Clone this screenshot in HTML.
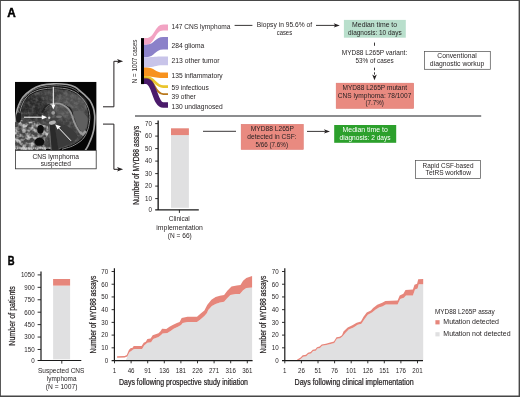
<!DOCTYPE html>
<html><head><meta charset="utf-8"><title>Figure</title>
<style>html,body{margin:0;padding:0;background:#fff}svg{display:block}text{font-family:"Liberation Sans", sans-serif;fill:#231f20}</style>
</head><body>
<svg width="520" height="397" viewBox="0 0 520 397">
<rect width="520" height="397" fill="#fff"/>
<path d="M0 0H520V397H0Z M0.9 1V395.6H518.6V1Z" fill="#474747" fill-rule="evenodd"/>
<text x="7.2" y="16.6" font-size="12" textLength="8.5" lengthAdjust="spacingAndGlyphs" font-weight="bold" style="fill:#000" stroke="#000" stroke-width="0.45">A</text>
<text x="7.8" y="264.6" font-size="12" textLength="6.8" lengthAdjust="spacingAndGlyphs" font-weight="bold" style="fill:#000" stroke="#000" stroke-width="0.45">B</text>
<g transform="translate(15.0 81.8)">
<defs>
<clipPath id="mclip"><rect width="81.6" height="68.7"/></clipPath>
<filter id="b3" x="-10%" y="-10%" width="120%" height="120%"><feGaussianBlur stdDeviation="0.35"/></filter>
<filter id="b8" x="-20%" y="-20%" width="140%" height="140%"><feGaussianBlur stdDeviation="1.2"/></filter>
<filter id="nz" x="0" y="0" width="100%" height="100%"><feTurbulence type="fractalNoise" baseFrequency="0.26" numOctaves="2" seed="11" result="t"/><feColorMatrix in="t" type="matrix" values="0 0 0 0 0  0 0 0 0 0  0 0 0 0 0  2.6 0 0 0 -0.95" result="a"/><feFlood flood-color="#c4c4c4"/><feComposite in2="a" operator="in"/><feComposite in2="SourceGraphic" operator="in"/></filter>
<filter id="nz2" x="0" y="0" width="100%" height="100%"><feTurbulence type="fractalNoise" baseFrequency="0.3" numOctaves="2" seed="3" result="t"/><feColorMatrix in="t" type="matrix" values="0 0 0 0 0  0 0 0 0 0  0 0 0 0 0  2.0 0 0 0 -0.75" result="a"/><feFlood flood-color="#9a9a9a"/><feComposite in2="a" operator="in"/><feComposite in2="SourceGraphic" operator="in"/></filter>
</defs>
<g clip-path="url(#mclip)">
<rect width="81.6" height="68.7" fill="#050505"/>
<g filter="url(#b3)">
<path d="M-2.0 62.0C-1.8 60.0 -0.9 53.7 -0.5 50.0C-0.1 46.3 0.2 43.2 0.6 40.0C0.9 36.8 1.2 33.6 1.6 31.0C2.0 28.4 2.2 27.1 3.3 24.5C4.3 21.9 5.6 18.2 7.9 15.4C10.2 12.6 13.9 9.7 16.9 7.7C19.9 5.7 22.4 4.5 26.0 3.6C29.6 2.6 34.4 2.1 38.8 2.0C43.2 1.9 48.7 2.2 52.2 2.7C55.7 3.2 57.7 4.0 60.0 5.2C62.3 6.4 64.2 8.4 66.0 10.0C67.8 11.6 69.5 13.0 71.0 14.5C72.5 16.0 73.9 17.2 75.1 19.1C76.3 21.0 77.5 23.6 78.3 26.0C79.1 28.4 79.5 31.3 79.7 33.6C79.9 35.9 79.7 37.8 79.6 40.0C79.5 42.2 79.3 44.4 79.0 46.6C78.7 48.8 78.1 50.9 77.5 53.0C76.9 55.1 76.0 57.2 75.2 59.0C74.5 60.8 73.8 62.4 73.0 64.0C72.2 65.6 70.8 67.8 70.4 68.5" fill="none" stroke="#a2a2a2" stroke-width="1.7"/>
<path d="M2.2 40.0C2.4 38.4 2.8 33.3 3.3 30.5C3.8 27.7 4.4 25.6 5.4 23.2C6.4 20.8 7.7 18.1 9.5 15.8C11.3 13.5 13.8 11.3 16.5 9.6C19.2 7.9 22.3 6.5 26.0 5.6C29.7 4.7 34.8 4.2 38.8 4.0C42.8 3.8 46.8 4.1 50.0 4.6C53.2 5.1 55.7 5.8 58.0 6.8C60.3 7.8 63.0 9.9 64.0 10.5" fill="none" stroke="#8a8a8a" stroke-width="0.8"/>
<path d="M4.3 51.4C4.4 49.5 4.7 43.4 5.1 39.9C5.4 36.3 5.6 33.1 6.2 30.2C6.8 27.3 7.7 24.7 8.6 22.5C9.6 20.3 10.6 18.6 12.0 16.9C13.4 15.2 14.4 13.8 16.8 12.5C19.3 11.1 22.8 9.5 26.5 8.6C30.2 7.7 35.0 7.3 38.8 7.1C42.7 7.0 46.9 7.4 49.6 7.8C52.4 8.2 53.6 8.8 55.4 9.5C57.3 10.2 59.1 10.9 60.7 12.1C62.4 13.2 64.1 14.9 65.6 16.5C67.0 18.1 68.4 19.7 69.5 21.5C70.7 23.3 71.7 25.3 72.3 27.3C73.0 29.3 73.4 31.8 73.6 33.7C73.8 35.6 73.6 37.1 73.4 38.9C73.2 40.7 72.9 42.5 72.5 44.3C72.1 46.1 71.6 47.8 70.9 49.5C70.2 51.2 69.3 53.1 68.4 54.5C67.4 56.0 66.3 57.1 65.1 58.2C63.9 59.3 62.4 60.2 61.0 61.0C59.7 61.8 58.3 62.6 56.9 63.2C55.5 63.8 54.4 64.1 52.7 64.7C51.0 65.2 47.8 66.1 46.8 66.4L40 70Z" fill="#3f3f3f"/>
<ellipse cx="55" cy="24" rx="17" ry="13" fill="#505050" filter="url(#b8)"/>
<ellipse cx="19" cy="26" rx="13" ry="12" fill="#2a2a2a" filter="url(#b8)"/>
<path d="M4.3 51.4C4.4 49.5 4.7 43.4 5.1 39.9C5.4 36.3 5.6 33.1 6.2 30.2C6.8 27.3 7.7 24.7 8.6 22.5C9.6 20.3 10.6 18.6 12.0 16.9C13.4 15.2 14.4 13.8 16.8 12.5C19.3 11.1 22.8 9.5 26.5 8.6C30.2 7.7 35.0 7.3 38.8 7.1C42.7 7.0 46.9 7.4 49.6 7.8C52.4 8.2 53.6 8.8 55.4 9.5C57.3 10.2 59.1 10.9 60.7 12.1C62.4 13.2 64.1 14.9 65.6 16.5C67.0 18.1 68.4 19.7 69.5 21.5C70.7 23.3 71.7 25.3 72.3 27.3C73.0 29.3 73.4 31.8 73.6 33.7C73.8 35.6 73.6 37.1 73.4 38.9C73.2 40.7 72.9 42.5 72.5 44.3C72.1 46.1 71.6 47.8 70.9 49.5C70.2 51.2 69.3 53.1 68.4 54.5C67.4 56.0 66.3 57.1 65.1 58.2C63.9 59.3 62.4 60.2 61.0 61.0C59.7 61.8 58.3 62.6 56.9 63.2C55.5 63.8 54.4 64.1 52.7 64.7C51.0 65.2 47.8 66.1 46.8 66.4L40 70Z" fill="#fff" filter="url(#nz2)" opacity="0.42"/>
<path d="M3.0 52.0C3.1 50.0 3.5 43.7 3.8 40.0C4.1 36.3 4.4 33.0 5.0 30.0C5.6 27.0 6.5 24.3 7.5 22.0C8.5 19.7 9.6 17.9 11.0 16.2C12.4 14.5 13.5 13.0 16.0 11.6C18.5 10.2 22.2 8.5 26.0 7.6C29.8 6.7 34.8 6.2 38.8 6.1C42.8 6.0 47.1 6.4 50.0 6.8C52.9 7.2 54.1 7.8 56.0 8.5C57.9 9.2 59.8 10.0 61.5 11.2C63.2 12.4 65.0 14.2 66.5 15.8C68.0 17.4 69.4 19.1 70.6 21.0C71.8 22.9 72.8 24.9 73.5 27.0C74.2 29.1 74.6 31.6 74.8 33.6C75.0 35.6 74.8 37.2 74.6 39.0C74.4 40.8 74.1 42.8 73.7 44.6C73.3 46.4 72.7 48.2 72.0 50.0C71.3 51.8 70.4 53.7 69.4 55.2C68.4 56.7 67.3 57.9 66.0 59.0C64.7 60.1 63.2 61.0 61.8 61.9C60.4 62.8 58.9 63.6 57.5 64.2C56.1 64.8 55.0 65.2 53.2 65.7C51.5 66.2 48.0 67.2 47.0 67.5" fill="none" stroke="#8e8e8e" stroke-width="1"/>
<path d="M27 31C30 22 42 19 50 23C56 26 58 31 57 35" fill="none" stroke="#222" stroke-width="2"/>
<path d="M30 27C36 19.5 47 19.5 54 24.5" fill="none" stroke="#6a6a6a" stroke-width="0.9"/>
<path d="M35 22.5C42 20.5 49 22.5 53.3 27C56 29.8 56.6 32.5 57.5 35.5C59 41 62 47 66.5 52.5" fill="none" stroke="#969696" stroke-width="1.8"/>
<path d="M63.5 50.5L68 54.5L72 50L69 48Z" fill="#999"/>
<path d="M58.5 30C62 28 70 30 72.5 36C73.5 42 71 48 67.5 51C63 47 60 40 58.5 30Z" fill="#5e5e5e"/>
<path d="M37 44L43 42C50 42 58 46 63 55C60 60 52 64 45 66L41 68Z" fill="#3a3a3a"/>
<path d="M34.5 43.5L39.5 43L43.5 68.5L36.5 68.5Z" fill="#2a2a2a"/>
<path d="M34.2 43.5L36.2 68.5" stroke="#777" stroke-width="0.7"/>
<path d="M-1 41L6 38L14 40L22 39L27 43L33 44L34 52L30 57L31 68.5L-1 68.5Z" fill="#474747"/>
<path d="M-1 41L6 38L14 40L22 39L27 43L33 44L34 52L30 57L31 68.5L-1 68.5Z" fill="#fff" filter="url(#nz)"/>
<ellipse cx="25.5" cy="47.5" rx="3.2" ry="4.3" fill="#0a0a0a"/>
<ellipse cx="24.5" cy="60" rx="5" ry="4" fill="#111"/>
<ellipse cx="3.5" cy="36" rx="2.5" ry="5" fill="#1a1a1a"/>
<path d="M0 66.3H36" stroke="#cfcfcf" stroke-width="1.3" stroke-dasharray="1.2 0.6"/>
<circle cx="38.2" cy="31" r="1.9" fill="#9a9a9a"/>
<circle cx="34.2" cy="36" r="1.2" fill="#c8c8c8"/>
<ellipse cx="37.4" cy="40.8" rx="3.6" ry="1.9" fill="#b5b5b5" transform="rotate(-12 37.4 40.8)"/>
<ellipse cx="44" cy="35" rx="3" ry="1.2" fill="#777"/>
</g>
<g stroke="#fff" stroke-width="1" fill="#fff">
<path d="M38.3 5V24"/><path d="M38.3 27.8L36.1 22.6H40.5Z" stroke="none"/>
<path d="M9 35.4H28"/><path d="M32 35.4L26.8 33.2V37.6Z" stroke="none"/>
<path d="M56 59L43 45.4"/><path d="M40.3 42.6L45.8 44.5L42.5 47.8Z" stroke="none"/>
</g>
</g>
</g>
<rect x="15.4" y="150.5" width="80.8" height="18.3" fill="#fff" stroke="#333" stroke-width="0.8"/>
<text x="55.7" y="158.7" font-size="6.8" text-anchor="middle" textLength="46.4" lengthAdjust="spacingAndGlyphs">CNS lymphoma</text>
<text x="55.85" y="166.1" font-size="6.8" text-anchor="middle" textLength="30.1" lengthAdjust="spacingAndGlyphs">suspected</text>
<g fill="none" stroke="#231f20" stroke-width="1">
<path d="M103 106.8H113.9V61.3H119"/>
<path d="M103 124.1H113.9V169.3H119"/>
</g>
<path d="M123.1 61.3L117.0 59.099999999999994L118.5 61.3L117.0 63.5Z" fill="#231f20"/>
<path d="M123.1 169.3L117.0 167.10000000000002L118.5 169.3L117.0 171.5Z" fill="#231f20"/>
<path d="M144 38.1L146.3 38.1C154.75 38.1 154.75 24.5 163.2 24.5L168 24.5L168 30.4L163.2 30.4C154.75 30.4 154.75 44.7 146.3 44.7L144 44.7Z" fill="#f2a3c3"/>
<path d="M144 44.7L146.3 44.7C154.75 44.7 154.75 37 163.2 37L168 37L168 49.6L163.2 49.6C154.75 49.6 154.75 57.3 146.3 57.3L144 57.3Z" fill="#8b81c9"/>
<path d="M144 57.3L146.3 57.3C154.75 57.3 154.75 56.6 163.2 56.6L168 56.6L168 65.3L163.2 65.3C154.75 65.3 154.75 67.5 146.3 67.5L144 67.5Z" fill="#c8c4e9"/>
<path d="M144 67.5L146.3 67.5C154.75 67.5 154.75 72.6 163.2 72.6L168 72.6L168 77.9L163.2 77.9C154.75 77.9 154.75 76.4 146.3 76.4L144 76.4Z" fill="#f7921e"/>
<path d="M144 77.30L146.3 77.30C154.75 77.30 154.75 86.60 163.2 86.60L168 86.60" fill="none" stroke="#eac52d" stroke-width="2.7"/>
<path d="M144 78.60L146.3 78.60C154.75 78.60 154.75 94.10 163.2 94.10L168 94.10" fill="none" stroke="#b9781c" stroke-width="1.9"/>
<path d="M144 81.35L146.3 81.35C154.75 81.35 154.75 105.10 163.2 105.10L168 105.10" fill="none" stroke="#4b1b6b" stroke-width="5.5"/>
<rect x="141" y="38.1" width="3" height="46" fill="#000"/>
<text transform="translate(136.8 61.4) rotate(-90)" font-size="6.8" text-anchor="middle" textLength="43.7" lengthAdjust="spacingAndGlyphs">N = 1007 cases</text>
<text x="171.5" y="29" font-size="7" textLength="59" lengthAdjust="spacingAndGlyphs">147 CNS lymphoma</text>
<text x="171.5" y="47.9" font-size="7" textLength="32.7" lengthAdjust="spacingAndGlyphs">284 glioma</text>
<text x="171.5" y="62.8" font-size="7" textLength="48.1" lengthAdjust="spacingAndGlyphs">213 other tumor</text>
<text x="171.5" y="78.3" font-size="7" textLength="51.2" lengthAdjust="spacingAndGlyphs">135 inflammatory</text>
<text x="171.5" y="89.5" font-size="7" textLength="37.3" lengthAdjust="spacingAndGlyphs">59 infectious</text>
<text x="171.5" y="99" font-size="7" textLength="24.3" lengthAdjust="spacingAndGlyphs">39 other</text>
<text x="171.5" y="108.8" font-size="7" textLength="51.2" lengthAdjust="spacingAndGlyphs">130 undiagnosed</text>
<g stroke="#231f20" stroke-width="0.9" fill="none">
<path d="M234.6 25.4H252.4"/>
<path d="M316 25.4H335.5"/>
<path d="M374.5 42.6V45.8"/>
<path d="M374.5 67.7V70.3M374.5 72.3V74.6"/>
<path d="M203 131.3H236"/>
<path d="M307 131.4H325.5"/>
</g>
<path d="M339.8 25.4L333.7 23.2L335.2 25.4L333.7 27.599999999999998Z" fill="#231f20"/>
<path d="M374.5 80.2L372.2 74.60000000000001L374.5 75.9L376.8 74.60000000000001Z" fill="#231f20"/>
<path d="M330 131.4L323.9 129.20000000000002L325.4 131.4L323.9 133.6Z" fill="#231f20"/>
<text x="284.4" y="27.2" font-size="6.8" text-anchor="middle" textLength="55.3" lengthAdjust="spacingAndGlyphs">Biopsy in 95.6% of</text>
<text x="284.4" y="34.9" font-size="6.8" text-anchor="middle" textLength="15.4" lengthAdjust="spacingAndGlyphs">cases</text>
<rect x="343.9" y="19.9" width="61.9" height="17.8" fill="#b9dfcc"/>
<text x="374.6" y="27.2" font-size="6.8" text-anchor="middle" textLength="45" lengthAdjust="spacingAndGlyphs">Median time to</text>
<text x="374.9" y="34.8" font-size="6.8" text-anchor="middle" textLength="53.6" lengthAdjust="spacingAndGlyphs">diagnosis: 10 days</text>
<text x="374.5" y="55.3" font-size="6.8" text-anchor="middle" textLength="65.5" lengthAdjust="spacingAndGlyphs">MYD88 L265P variant:</text>
<text x="374.6" y="63.4" font-size="6.8" text-anchor="middle" textLength="38.1" lengthAdjust="spacingAndGlyphs">53% of cases</text>
<rect x="336.1" y="83.1" width="77.7" height="25.5" fill="#e98a80" stroke="#d9736b" stroke-width="0.4"/>
<text x="374.75" y="90.2" font-size="6.8" text-anchor="middle" textLength="64.5" lengthAdjust="spacingAndGlyphs">MYD88 L265P mutant</text>
<text x="374.6" y="97.5" font-size="6.8" text-anchor="middle" textLength="73.5" lengthAdjust="spacingAndGlyphs">CNS lymphoma: 78/1007</text>
<text x="374.7" y="104.9" font-size="6.8" text-anchor="middle" textLength="18.5" lengthAdjust="spacingAndGlyphs">(7.7%)</text>
<rect x="424.4" y="51.4" width="65.9" height="17.9" fill="#fff" stroke="#4d4d4d" stroke-width="0.7"/>
<text x="457" y="58.4" font-size="6.8" text-anchor="middle" textLength="39.3" lengthAdjust="spacingAndGlyphs">Conventional</text>
<text x="457.1" y="66.2" font-size="6.8" text-anchor="middle" textLength="54.5" lengthAdjust="spacingAndGlyphs">diagnostic workup</text>
<path d="M135 116H481.2" stroke="#66676a" stroke-width="1.5"/>
<rect x="241.1" y="124.2" width="62.4" height="25.4" fill="#e98a80" stroke="#d9736b" stroke-width="0.4"/>
<text x="272.4" y="131.2" font-size="6.8" text-anchor="middle" textLength="43.2" lengthAdjust="spacingAndGlyphs">MYD88 L265P</text>
<text x="272" y="139.4" font-size="6.8" text-anchor="middle" textLength="49.3" lengthAdjust="spacingAndGlyphs">detected in CSF:</text>
<text x="271.8" y="146.8" font-size="6.8" text-anchor="middle" textLength="32.4" lengthAdjust="spacingAndGlyphs">5/66 (7.6%)</text>
<rect x="334.2" y="125" width="62" height="17.8" fill="#2ca02c"/>
<text x="365.2" y="131.9" font-size="6.8" text-anchor="middle" textLength="45.3" lengthAdjust="spacingAndGlyphs" style="fill:#fff">Median time to</text>
<text x="365.1" y="139.7" font-size="6.8" text-anchor="middle" textLength="51" lengthAdjust="spacingAndGlyphs" style="fill:#fff">diagnosis: 2 days</text>
<rect x="415.4" y="160.6" width="65" height="17.8" fill="#fff" stroke="#4d4d4d" stroke-width="0.7"/>
<text x="448" y="167.5" font-size="6.8" text-anchor="middle" textLength="51" lengthAdjust="spacingAndGlyphs">Rapid CSF-based</text>
<text x="448.3" y="175.2" font-size="6.8" text-anchor="middle" textLength="45.4" lengthAdjust="spacingAndGlyphs">TetRS workflow</text>
<rect x="171" y="135.1" width="17.9" height="72.7" fill="#e0e0e1"/>
<rect x="171" y="128.3" width="17.9" height="6.8" fill="#e6867b"/>
<g stroke="#1a1a1a" stroke-width="1.2" fill="none">
<path d="M158.15 120.6V210.4M155.2 209.85H198.8" stroke-width="1.35"/>
<path d="M179.4 209.85V212.9" stroke-width="0.9"/>
<path d="M155.2 123.60H158" stroke-width="0.9"/>
<path d="M155.2 136.10H158" stroke-width="0.9"/>
<path d="M155.2 148.60H158" stroke-width="0.9"/>
<path d="M155.2 161.10H158" stroke-width="0.9"/>
<path d="M155.2 173.60H158" stroke-width="0.9"/>
<path d="M155.2 186.10H158" stroke-width="0.9"/>
<path d="M155.2 198.60H158" stroke-width="0.9"/>
</g>
<text x="152" y="125.95" font-size="6.5" text-anchor="end" textLength="6.9" lengthAdjust="spacingAndGlyphs">70</text>
<text x="152" y="138.45" font-size="6.5" text-anchor="end" textLength="6.9" lengthAdjust="spacingAndGlyphs">60</text>
<text x="152" y="150.95" font-size="6.5" text-anchor="end" textLength="6.9" lengthAdjust="spacingAndGlyphs">50</text>
<text x="152" y="163.45" font-size="6.5" text-anchor="end" textLength="6.9" lengthAdjust="spacingAndGlyphs">40</text>
<text x="152" y="175.95" font-size="6.5" text-anchor="end" textLength="6.9" lengthAdjust="spacingAndGlyphs">30</text>
<text x="152" y="188.45" font-size="6.5" text-anchor="end" textLength="6.9" lengthAdjust="spacingAndGlyphs">20</text>
<text x="152" y="200.95" font-size="6.5" text-anchor="end" textLength="6.9" lengthAdjust="spacingAndGlyphs">10</text>
<text x="152" y="212.05" font-size="6.5" text-anchor="end" textLength="3.45" lengthAdjust="spacingAndGlyphs">0</text>
<text transform="translate(139 165.4) rotate(-90)" font-size="8.2" text-anchor="middle" textLength="78.8" lengthAdjust="spacingAndGlyphs" stroke="#231f20" stroke-width="0.22">Number of MYD88 assays</text>
<text x="179.3" y="221.1" font-size="6.8" text-anchor="middle" textLength="21" lengthAdjust="spacingAndGlyphs">Clinical</text>
<text x="179.6" y="229.5" font-size="6.8" text-anchor="middle" textLength="46.5" lengthAdjust="spacingAndGlyphs">implementation</text>
<text x="179.8" y="237.9" font-size="6.8" text-anchor="middle" textLength="23.9" lengthAdjust="spacingAndGlyphs">(N = 66)</text>
<rect x="53.1" y="285.6" width="17" height="73.7" fill="#e0e0e1"/>
<rect x="53.1" y="279" width="17" height="6.6" fill="#e6867b"/>
<g stroke="#1a1a1a" stroke-width="1.2" fill="none">
<path d="M41 271.4V361M37.6 360.5H81.3"/>
<path d="M61.8 360.5V363.6" stroke-width="0.9"/>
<path d="M37.6 274.90H41" stroke-width="0.9"/>
<path d="M37.6 287.33H41" stroke-width="0.9"/>
<path d="M37.6 299.76H41" stroke-width="0.9"/>
<path d="M37.6 312.19H41" stroke-width="0.9"/>
<path d="M37.6 324.62H41" stroke-width="0.9"/>
<path d="M37.6 337.05H41" stroke-width="0.9"/>
<path d="M37.6 349.48H41" stroke-width="0.9"/>
</g>
<text x="34.7" y="277.25" font-size="6.5" text-anchor="end" textLength="13.8" lengthAdjust="spacingAndGlyphs">1050</text>
<text x="34.7" y="289.68" font-size="6.5" text-anchor="end" textLength="10.35" lengthAdjust="spacingAndGlyphs">900</text>
<text x="34.7" y="302.11" font-size="6.5" text-anchor="end" textLength="10.35" lengthAdjust="spacingAndGlyphs">750</text>
<text x="34.7" y="314.54" font-size="6.5" text-anchor="end" textLength="10.35" lengthAdjust="spacingAndGlyphs">600</text>
<text x="34.7" y="326.97" font-size="6.5" text-anchor="end" textLength="10.35" lengthAdjust="spacingAndGlyphs">450</text>
<text x="34.7" y="339.4" font-size="6.5" text-anchor="end" textLength="10.35" lengthAdjust="spacingAndGlyphs">300</text>
<text x="34.7" y="351.83" font-size="6.5" text-anchor="end" textLength="10.35" lengthAdjust="spacingAndGlyphs">150</text>
<text x="34.7" y="362.85" font-size="6.5" text-anchor="end" textLength="3.45" lengthAdjust="spacingAndGlyphs">0</text>
<text transform="translate(14.7 315.9) rotate(-90)" font-size="8.2" text-anchor="middle" textLength="59.5" lengthAdjust="spacingAndGlyphs" stroke="#231f20" stroke-width="0.22">Number of patients</text>
<text x="61.2" y="372.7" font-size="6.8" text-anchor="middle" textLength="46.4" lengthAdjust="spacingAndGlyphs">Suspected CNS</text>
<text x="61.7" y="381.2" font-size="6.8" text-anchor="middle" textLength="29.6" lengthAdjust="spacingAndGlyphs">lymphoma</text>
<text x="61.6" y="388.7" font-size="6.8" text-anchor="middle" textLength="31.7" lengthAdjust="spacingAndGlyphs">(N = 1007)</text>
<path d="M125.7 360.7 L127.3 356.5 L129.4 352.2 L131.6 350.7 L133.1 349.6 L134.7 349.1 L142.1 349.1 L144.2 345.4 L147.4 342.7 L151.1 342.2 L153.2 339.0 L158.5 336.9 L160.8 335.2 L162.6 333.6 L167.4 333.1 L170.6 330.9 L173.7 328.8 L178.0 326.7 L181.1 325.1 L182.7 323.0 L187.5 322.0 L197.0 322.0 L200.7 319.3 L204.4 316.1 L207.0 313.0 L208.2 310.0 L211.9 306.1 L215.6 303.9 L219.9 302.4 L224.1 301.8 L226.7 298.7 L230.4 295.0 L235.7 293.9 L239.9 293.9 L243.1 290.2 L246.3 288.1 L252.1 287.6 L252.1 360.7Z" fill="#e0e0e1"/>
<path d="M117.1 356.3 L124.7 355.9 L126.8 354.9 L128.9 350.1 L130.5 348.3 L132.6 347.7 L133.7 345.9 L141.6 345.9 L143.7 342.7 L145.8 341.7 L147.4 339.0 L150.6 338.5 L152.7 335.3 L158.5 333.2 L160.5 331.3 L162.1 328.8 L166.3 329.0 L169.5 326.7 L172.7 325.1 L176.9 323.0 L179.6 322.0 L181.7 318.0 L187.5 316.7 L197.0 316.7 L200.7 313.5 L204.4 310.4 L207.2 305.0 L211.4 299.7 L215.6 297.1 L219.9 295.7 L224.1 295.0 L227.3 290.7 L231.5 286.5 L236.8 285.4 L240.5 284.9 L243.1 280.7 L246.3 278.0 L252.1 275.9 L252.1 287.6 L246.3 288.1 L243.1 290.2 L239.9 293.9 L235.7 293.9 L230.4 295.0 L226.7 298.7 L224.1 301.8 L219.9 302.4 L215.6 303.9 L211.9 306.1 L208.2 310.0 L207.0 313.0 L204.4 316.1 L200.7 319.3 L197.0 322.0 L187.5 322.0 L182.7 323.0 L181.1 325.1 L178.0 326.7 L173.7 328.8 L170.6 330.9 L167.4 333.1 L162.6 333.6 L160.8 335.2 L158.5 336.9 L153.2 339.0 L151.1 342.2 L147.4 342.7 L144.2 345.4 L142.1 349.1 L134.7 349.1 L133.1 349.6 L131.6 350.7 L129.4 352.2 L127.3 356.5 L124.7 357.5 L117.1 357.7Z" fill="#e6867b"/>
<g stroke="#1a1a1a" stroke-width="1.2" fill="none">
<path d="M114.4 268.3V361.2M111.60000000000001 360.7H252.6"/>
<path d="M111.60000000000001 271.50H114.4" stroke-width="0.9"/>
<path d="M111.60000000000001 284.22H114.4" stroke-width="0.9"/>
<path d="M111.60000000000001 296.94H114.4" stroke-width="0.9"/>
<path d="M111.60000000000001 309.66H114.4" stroke-width="0.9"/>
<path d="M111.60000000000001 322.38H114.4" stroke-width="0.9"/>
<path d="M111.60000000000001 335.10H114.4" stroke-width="0.9"/>
<path d="M111.60000000000001 347.82H114.4" stroke-width="0.9"/>
<path d="M114.5 360.7V363.3" stroke-width="0.9"/>
<path d="M131.1 360.7V363.3" stroke-width="0.9"/>
<path d="M147.7 360.7V363.3" stroke-width="0.9"/>
<path d="M164.3 360.7V363.3" stroke-width="0.9"/>
<path d="M180.9 360.7V363.3" stroke-width="0.9"/>
<path d="M197.5 360.7V363.3" stroke-width="0.9"/>
<path d="M214.1 360.7V363.3" stroke-width="0.9"/>
<path d="M230.7 360.7V363.3" stroke-width="0.9"/>
<path d="M247.3 360.7V363.3" stroke-width="0.9"/>
</g>
<text x="108.2" y="273.85" font-size="6.5" text-anchor="end" textLength="6.9" lengthAdjust="spacingAndGlyphs">70</text>
<text x="108.2" y="286.57" font-size="6.5" text-anchor="end" textLength="6.9" lengthAdjust="spacingAndGlyphs">60</text>
<text x="108.2" y="299.29" font-size="6.5" text-anchor="end" textLength="6.9" lengthAdjust="spacingAndGlyphs">50</text>
<text x="108.2" y="312.01" font-size="6.5" text-anchor="end" textLength="6.9" lengthAdjust="spacingAndGlyphs">40</text>
<text x="108.2" y="324.73" font-size="6.5" text-anchor="end" textLength="6.9" lengthAdjust="spacingAndGlyphs">30</text>
<text x="108.2" y="337.45" font-size="6.5" text-anchor="end" textLength="6.9" lengthAdjust="spacingAndGlyphs">20</text>
<text x="108.2" y="350.17" font-size="6.5" text-anchor="end" textLength="6.9" lengthAdjust="spacingAndGlyphs">10</text>
<text x="108.2" y="363.05" font-size="6.5" text-anchor="end" textLength="3.45" lengthAdjust="spacingAndGlyphs">0</text>
<text x="114.5" y="373.1" font-size="6.5" text-anchor="middle" textLength="3.45" lengthAdjust="spacingAndGlyphs">1</text>
<text x="131.1" y="373.1" font-size="6.5" text-anchor="middle" textLength="6.9" lengthAdjust="spacingAndGlyphs">46</text>
<text x="147.7" y="373.1" font-size="6.5" text-anchor="middle" textLength="6.9" lengthAdjust="spacingAndGlyphs">91</text>
<text x="164.3" y="373.1" font-size="6.5" text-anchor="middle" textLength="10.35" lengthAdjust="spacingAndGlyphs">136</text>
<text x="180.9" y="373.1" font-size="6.5" text-anchor="middle" textLength="10.35" lengthAdjust="spacingAndGlyphs">181</text>
<text x="197.5" y="373.1" font-size="6.5" text-anchor="middle" textLength="10.35" lengthAdjust="spacingAndGlyphs">226</text>
<text x="214.1" y="373.1" font-size="6.5" text-anchor="middle" textLength="10.35" lengthAdjust="spacingAndGlyphs">271</text>
<text x="230.7" y="373.1" font-size="6.5" text-anchor="middle" textLength="10.35" lengthAdjust="spacingAndGlyphs">316</text>
<text x="247.3" y="373.1" font-size="6.5" text-anchor="middle" textLength="10.35" lengthAdjust="spacingAndGlyphs">361</text>
<text x="119" y="385.1" font-size="8.2" textLength="128.9" lengthAdjust="spacingAndGlyphs" stroke="#231f20" stroke-width="0.22">Days following prospective study initiation</text>
<text transform="translate(95.9 314.6) rotate(-90)" font-size="8.2" text-anchor="middle" textLength="77.9" lengthAdjust="spacingAndGlyphs" stroke="#231f20" stroke-width="0.22">Number of MYD88 assays</text>
<path d="M296.9 360.7 L298.5 360.4 L301.0 358.8 L303.1 356.7 L306.3 356.2 L308.4 354.1 L311.0 353.5 L313.1 351.1 L315.8 350.7 L317.4 348.6 L320.0 347.9 L322.1 345.8 L326.3 345.1 L330.6 344.0 L334.3 343.0 L336.9 338.7 L340.1 338.2 L342.4 336.6 L345.6 332.7 L348.7 329.5 L353.5 327.4 L357.7 324.8 L361.4 323.7 L364.6 319.0 L367.8 314.7 L372.0 312.6 L375.7 309.4 L379.4 307.3 L382.2 306.5 L385.9 304.4 L397.6 304.4 L400.2 299.1 L403.9 297.7 L406.0 295.4 L412.9 295.4 L415.0 289.6 L417.6 288.5 L418.7 284.3 L423.2 284.3 L423.2 360.7Z" fill="#e0e0e1"/>
<path d="M296.9 359.8 L300.6 357.4 L302.7 355.3 L305.9 354.8 L308.0 352.7 L310.6 352.1 L312.7 349.7 L315.4 349.3 L317.0 347.2 L319.6 346.5 L321.7 344.4 L325.9 343.7 L330.2 342.6 L333.9 341.6 L336.5 337.3 L339.7 336.8 L342.0 335.2 L343.5 331.6 L347.7 327.4 L352.4 325.3 L356.7 322.7 L360.9 321.6 L363.5 316.8 L366.7 312.6 L370.9 310.5 L373.1 307.9 L377.3 304.7 L382.2 302.8 L385.4 300.9 L397.6 300.4 L399.7 295.4 L403.4 293.8 L405.5 290.1 L412.9 289.6 L414.5 284.8 L417.1 283.7 L418.2 279.3 L423.2 279.0 L423.2 284.3 L418.7 284.3 L417.6 288.5 L415.0 289.6 L412.9 295.4 L406.0 295.4 L403.9 297.7 L400.2 299.1 L397.6 304.4 L385.9 304.4 L382.2 306.5 L379.4 307.3 L375.7 309.4 L372.0 312.6 L367.8 314.7 L364.6 319.0 L361.4 323.7 L357.7 324.8 L353.5 327.4 L348.7 329.5 L345.6 332.7 L342.4 336.6 L340.1 338.2 L336.9 338.7 L334.3 343.0 L330.6 344.0 L326.3 345.1 L322.1 345.8 L320.0 347.9 L317.4 348.6 L315.8 350.7 L313.1 351.1 L311.0 353.5 L308.4 354.1 L306.3 356.2 L303.1 356.7 L301.0 358.8 L298.5 360.4Z" fill="#e6867b"/>
<g stroke="#1a1a1a" stroke-width="1.2" fill="none">
<path d="M284.8 268.3V361.2M282.0 360.7H423"/>
<path d="M282.0 271.50H284.8" stroke-width="0.9"/>
<path d="M282.0 284.22H284.8" stroke-width="0.9"/>
<path d="M282.0 296.94H284.8" stroke-width="0.9"/>
<path d="M282.0 309.66H284.8" stroke-width="0.9"/>
<path d="M282.0 322.38H284.8" stroke-width="0.9"/>
<path d="M282.0 335.10H284.8" stroke-width="0.9"/>
<path d="M282.0 347.82H284.8" stroke-width="0.9"/>
<path d="M284.8 360.7V363.3" stroke-width="0.9"/>
<path d="M301.4 360.7V363.3" stroke-width="0.9"/>
<path d="M318.0 360.7V363.3" stroke-width="0.9"/>
<path d="M334.6 360.7V363.3" stroke-width="0.9"/>
<path d="M351.2 360.7V363.3" stroke-width="0.9"/>
<path d="M367.8 360.7V363.3" stroke-width="0.9"/>
<path d="M384.3 360.7V363.3" stroke-width="0.9"/>
<path d="M400.9 360.7V363.3" stroke-width="0.9"/>
<path d="M417.5 360.7V363.3" stroke-width="0.9"/>
</g>
<text x="278.6" y="273.85" font-size="6.5" text-anchor="end" textLength="6.9" lengthAdjust="spacingAndGlyphs">70</text>
<text x="278.6" y="286.57" font-size="6.5" text-anchor="end" textLength="6.9" lengthAdjust="spacingAndGlyphs">60</text>
<text x="278.6" y="299.29" font-size="6.5" text-anchor="end" textLength="6.9" lengthAdjust="spacingAndGlyphs">50</text>
<text x="278.6" y="312.01" font-size="6.5" text-anchor="end" textLength="6.9" lengthAdjust="spacingAndGlyphs">40</text>
<text x="278.6" y="324.73" font-size="6.5" text-anchor="end" textLength="6.9" lengthAdjust="spacingAndGlyphs">30</text>
<text x="278.6" y="337.45" font-size="6.5" text-anchor="end" textLength="6.9" lengthAdjust="spacingAndGlyphs">20</text>
<text x="278.6" y="350.17" font-size="6.5" text-anchor="end" textLength="6.9" lengthAdjust="spacingAndGlyphs">10</text>
<text x="278.6" y="363.05" font-size="6.5" text-anchor="end" textLength="3.45" lengthAdjust="spacingAndGlyphs">0</text>
<text x="284.8" y="373.1" font-size="6.5" text-anchor="middle" textLength="3.45" lengthAdjust="spacingAndGlyphs">1</text>
<text x="301.4" y="373.1" font-size="6.5" text-anchor="middle" textLength="6.9" lengthAdjust="spacingAndGlyphs">26</text>
<text x="318.0" y="373.1" font-size="6.5" text-anchor="middle" textLength="6.9" lengthAdjust="spacingAndGlyphs">51</text>
<text x="334.6" y="373.1" font-size="6.5" text-anchor="middle" textLength="6.9" lengthAdjust="spacingAndGlyphs">76</text>
<text x="351.2" y="373.1" font-size="6.5" text-anchor="middle" textLength="10.35" lengthAdjust="spacingAndGlyphs">101</text>
<text x="367.8" y="373.1" font-size="6.5" text-anchor="middle" textLength="10.35" lengthAdjust="spacingAndGlyphs">126</text>
<text x="384.3" y="373.1" font-size="6.5" text-anchor="middle" textLength="10.35" lengthAdjust="spacingAndGlyphs">151</text>
<text x="400.9" y="373.1" font-size="6.5" text-anchor="middle" textLength="10.35" lengthAdjust="spacingAndGlyphs">176</text>
<text x="417.5" y="373.1" font-size="6.5" text-anchor="middle" textLength="10.35" lengthAdjust="spacingAndGlyphs">201</text>
<text x="294.5" y="385.1" font-size="8.2" textLength="119.2" lengthAdjust="spacingAndGlyphs" stroke="#231f20" stroke-width="0.22">Days following clinical implementation</text>
<text transform="translate(266.3 314.6) rotate(-90)" font-size="8.2" text-anchor="middle" textLength="77.9" lengthAdjust="spacingAndGlyphs" stroke="#231f20" stroke-width="0.22">Number of MYD88 assays</text>
<text x="435" y="314" font-size="7" textLength="59.8" lengthAdjust="spacingAndGlyphs">MYD88 L265P assay</text>
<rect x="435.4" y="320.2" width="4.2" height="4.2" fill="#e6867b"/>
<text x="443.3" y="324.4" font-size="7" textLength="55.7" lengthAdjust="spacingAndGlyphs">Mutation detected</text>
<rect x="435.4" y="332.2" width="4.2" height="4.2" fill="#e0e0e1"/>
<text x="443.3" y="336.1" font-size="7" textLength="67.3" lengthAdjust="spacingAndGlyphs">Mutation not detected</text>
</svg>
</body></html>
